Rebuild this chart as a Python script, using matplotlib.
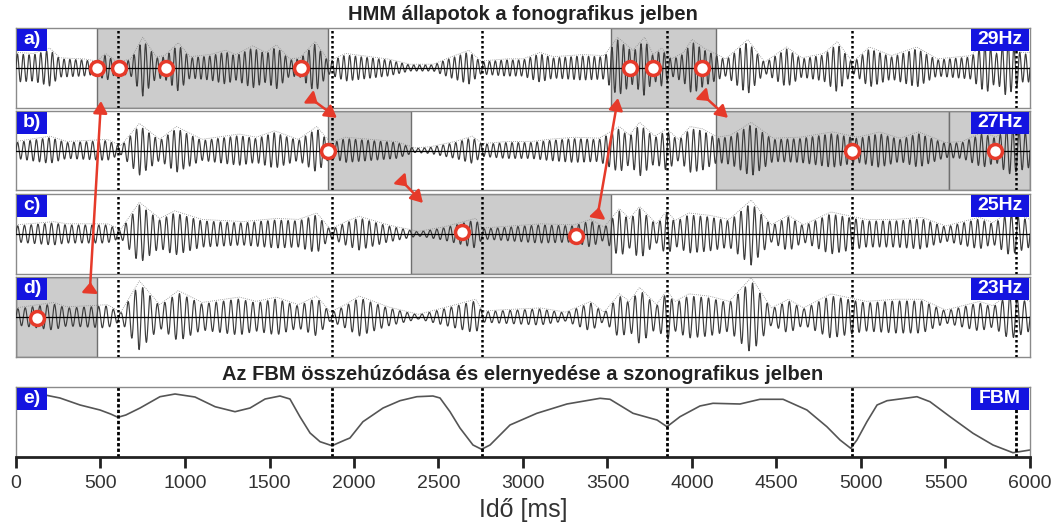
import numpy as np
import matplotlib
matplotlib.use("Agg")
import matplotlib.pyplot as plt
from matplotlib.patches import ConnectionPatch, Rectangle

plt.rcParams['font.family'] = ['Liberation Sans', 'DejaVu Sans']

# ---- data ----
labels = ['a)', 'b)', 'c)', 'd)']
freqs = [29, 27, 25, 23]
freq_labels = ['29Hz', '27Hz', '25Hz', '23Hz']

# envelope knots (ms, amplitude) for each phonographic panel
env_a_t = [0, 100, 200, 260, 400, 480, 530, 600, 680, 750, 830, 880, 960, 1030, 1150, 1240, 1300, 1400, 1480,
           1540, 1620, 1680, 1770, 1850, 1950, 2050, 2200, 2330, 2470, 2560, 2680, 2750, 2900, 3000, 3100, 3180,
           3350, 3480, 3560, 3650, 3720, 3770, 3820, 3880, 3950, 4000, 4070, 4200, 4330, 4430, 4560, 4650, 4780,
           4860, 4950, 5050, 5180, 5330, 5450, 5650, 5740, 5800, 5860, 5950, 6000]
env_a_v = [14, 13, 18, 9, 8, 6, 13, 5, 8, 28, 10, 11, 23, 10, 12, 16, 12, 20, 14,
           21, 8, 9, 24, 6, 13, 11, 8, 3, 3, 9, 16, 6, 8, 8, 14, 10,
           12, 11, 28, 16, 28, 12, 18, 8, 14, 26, 18, 8, 26, 5, 19, 9, 13,
           24, 5, 19, 11, 19, 8, 11, 25, 14, 28, 14, 14]

env_b_t = [0, 200, 300, 540, 620, 730, 850, 950, 1100, 1320, 1420, 1530, 1670, 1780, 1860, 1950, 2100, 2250,
           2360, 2450, 2600, 2700, 2760, 2900, 3050, 3150, 3300, 3450, 3570, 3630, 3690, 3780, 3850, 3920, 3990,
           4060, 4150, 4230, 4350, 4480, 4640, 4830, 4980, 5110, 5230, 5340, 5500, 5600, 5720, 5800, 5870, 6000]
env_b_v = [8, 13, 8, 10, 4, 25, 10, 22, 10, 15, 12, 18, 10, 22, 7, 12, 10, 8,
           2, 3, 8, 13, 6, 8, 8, 10, 12, 11, 22, 14, 26, 13, 20, 10, 22,
           20, 12, 14, 26, 11, 12, 17, 12, 17, 11, 17, 7, 8, 17, 12, 24, 17]

env_c_t = [0, 220, 300, 540, 620, 730, 850, 940, 1100, 1340, 1540, 1670, 1780, 1860, 1950, 2030, 2200, 2380,
           2530, 2720, 2760, 2850, 3100, 3300, 3400, 3480, 3570, 3630, 3690, 3790, 3850, 3900, 3980, 4100, 4220,
           4350, 4470, 4570, 4660, 4820, 5030, 5200, 5360, 5500, 5700, 5780, 5880, 6000]
env_c_v = [8, 11, 9, 9, 4, 29, 14, 21, 13, 11, 14, 13, 19, 4, 11, 16, 8, 2,
           6, 14, 5, 6, 9, 8, 13, 6, 23, 14, 25, 9, 21, 12, 19, 17, 13,
           31, 8, 17, 8, 20, 13, 13, 15, 7, 15, 10, 21, 13]

env_d_t = [0, 220, 300, 540, 620, 730, 850, 960, 1100, 1320, 1420, 1540, 1670, 1780, 1860, 1950, 2030, 2200,
           2380, 2530, 2720, 2760, 2850, 3100, 3250, 3400, 3480, 3570, 3630, 3690, 3790, 3850, 3900, 3980, 4100,
           4220, 4350, 4470, 4570, 4660, 4820, 5030, 5200, 5360, 5500, 5700, 5780, 5880, 6000]
env_d_v = [8, 13, 9, 11, 4, 33, 11, 24, 13, 18, 14, 18, 11, 19, 4, 11, 19, 9,
           2, 8, 16, 5, 6, 8, 4, 14, 4, 21, 14, 27, 11, 24, 14, 21, 19,
           14, 36, 8, 16, 8, 21, 14, 16, 16, 6, 14, 10, 22, 14]

# shaded HMM states (start, end) per panel
spans_a = [(477, 1844), (3519, 4142)]
spans_b = [(1846, 2335), (4142, 5523), (5523, 6000)]
spans_c = [(2335, 3519)]
spans_d = [(0, 477)]

# red circles (ms, offset)
marks_a = [(477, 0), (609, 0), (888, 0), (1686, 0), (3633, 0), (3771, 0), (4057, 0)]
marks_b = [(1844, -1), (4944, 0), (5793, 0)]
marks_c = [(2641, 2), (3311, -2)]
marks_d = [(126, -1)]

# dotted event lines (ms)
events = [603, 1870, 2755, 3852, 4944, 5915]

# FBM curve (ms, height)
fbm_t = [0, 172, 260, 379, 497, 560, 603, 650, 734, 852, 941, 1059, 1178, 1296, 1385, 1474, 1562, 1621, 1680,
         1740, 1799, 1870, 1947, 1976, 2053, 2172, 2272, 2372, 2467, 2509, 2568, 2627, 2704, 2755, 2805, 2923,
         3082, 3260, 3456, 3515, 3651, 3793, 3852, 3929, 4047, 4124, 4284, 4402, 4539, 4680, 4798, 4876, 4939,
         4976, 5035, 5095, 5154, 5331, 5408, 5527, 5663, 5781, 5899, 6000]
fbm_v = [63, 62, 59, 52, 47, 43, 39.7, 42, 49, 60.3, 63, 60, 50.3, 45.3, 49, 58, 61, 58, 40.3,
         24, 15.3, 11.3, 17, 19, 35.3, 49, 56.3, 60.3, 61, 59, 45.3, 29, 12, 7.7, 12, 32,
         43.7, 53, 58.7, 57.7, 43.7, 37, 30.3, 40.3, 51, 53.7, 53, 57.7, 57.7, 47, 30.3, 17, 8.7,
         17, 35.3, 52, 56.3, 60.3, 55.3, 40.3, 23.7, 12, 4.3, 7]

# arrows: (tail panel, tail ms, tail y, head panel, head ms, head y)
arrows = [(3, 438, 29, 0, 503, -33),
          (0, 1757, -32, 1, 1899, 33),
          (0, 4077, -29, 1, 4213, 33),
          (1, 2290, -32, 2, 2408, 31),
          (2, 3444, 21, 0, 3562, -30)]

envs = [(env_a_t, env_a_v), (env_b_t, env_b_v), (env_c_t, env_c_v), (env_d_t, env_d_v)]
spans = [spans_a, spans_b, spans_c, spans_d]
marks = [marks_a, marks_b, marks_c, marks_d]

BLUE = '#1414e0'
RED = '#e63a2a'

W, H = 1061, 528
fig = plt.figure(figsize=(W / 100, H / 100), dpi=100)

def box(top, bottom):
    return [16 / W, (H - bottom) / H, (1030 - 16) / W, (bottom - top) / H]

def tag(ax, text, hpx, side):
    # blue label box sized in pixels, sitting in a top corner of the axes
    w = (30 if side == 'left' else 58) / 1014
    h = 22 / hpx
    x0 = 0.001 if side == 'left' else 1 - w - 0.001
    ax.add_patch(Rectangle((x0, 1 - h - 0.01), w, h, transform=ax.transAxes, fc=BLUE, ec='none',
                           zorder=9, clip_on=False))
    ax.text(x0 + w / 2, 1 - h / 2 - 0.01, text, transform=ax.transAxes, ha='center', va='center',
            color='white', fontsize=14, fontweight='bold', zorder=10)

panel_px = [(28, 108), (111, 190), (194, 274), (277, 357)]
axes = []
t = np.arange(0, 6001, 1.0)
for i in range(4):
    ax = fig.add_axes(box(*panel_px[i]))
    axes.append(ax)
    for s0, s1 in spans[i]:
        ax.axvspan(s0, s1, fc='#cccccc', ec='#6f6f6f', lw=1, zorder=0)
    env = np.interp(t, envs[i][0], envs[i][1])
    sig = env * np.sin(2 * np.pi * freqs[i] * t / 1000.0)
    ax.plot(t, env * 1.08 + 0.5, color='#8a8a8a', lw=0.6, ls=(0, (1, 1.5)), zorder=2)
    ax.plot(t, sig, color='#3c3c3c', lw=0.85, zorder=3)
    ax.axhline(0, color='black', lw=0.9, zorder=4)
    for e in events:
        ax.axvline(e, color='black', lw=1.8, ls=(0, (1, 1)), zorder=5)
    mx = [m[0] for m in marks[i]]
    my = [m[1] for m in marks[i]]
    ax.plot(mx, my, 'o', ms=10, mfc='white', mec=RED, mew=2.5, zorder=6)
    ax.set_xlim(0, 6000)
    ax.set_ylim(-40, 40)
    ax.set_xticks([])
    ax.set_yticks([])
    for sp in ax.spines.values():
        sp.set_color('#8a8a8a')
        sp.set_linewidth(1)
    hpx = panel_px[i][1] - panel_px[i][0]
    tag(ax, labels[i], hpx, 'left')
    tag(ax, freq_labels[i], hpx, 'right')

# FBM panel
axe = fig.add_axes(box(387, 457))
axe.plot(fbm_t, fbm_v, color='#555555', lw=1.2)
for e in events:
    axe.axvline(e, color='black', lw=2, ls=(0, (1.2, 0.8)))
axe.set_xlim(0, 6000)
axe.set_ylim(0, 70)
axe.set_yticks([])
axe.set_xticks(np.arange(0, 6001, 500))
axe.tick_params(axis='x', direction='out', length=8, width=2, labelsize=14, pad=5,
                color='#222222', labelcolor='#333333')
for name, sp in axe.spines.items():
    sp.set_color('#8a8a8a')
    sp.set_linewidth(1)
axe.spines['bottom'].set_color('#222222')
axe.spines['bottom'].set_linewidth(2)
axe.set_xlabel('Idő [ms]', fontsize=18, labelpad=4, color='#333333')
tag(axe, 'e)', 70, 'left')
tag(axe, 'FBM', 70, 'right')

fig.text(523 / W, 1 - 14 / H, 'HMM állapotok a fonografikus jelben', ha='center', va='center',
         fontsize=14.5, fontweight='bold', color='#222222')
fig.text(523 / W, 1 - 375 / H, 'Az FBM összehúzódása és elernyedése a szonografikus jelben', ha='center',
         va='center', fontsize=14.5, fontweight='bold', color='#222222')

# red arrows between HMM states
for ti, tx, ty, hi, hx, hy in arrows:
    p0 = axes[ti].transData.transform((tx, ty))
    p1 = axes[hi].transData.transform((hx, hy))
    d = (p1 - p0) / np.hypot(*(p1 - p0))
    con = ConnectionPatch(xyA=tuple(p0), coordsA='figure pixels', xyB=tuple(p1), coordsB='figure pixels',
                          arrowstyle='-|>,head_length=0.6,head_width=0.35', color=RED, lw=1.8, zorder=20,
                          shrinkA=0, shrinkB=0, mutation_scale=12)
    fig.add_artist(con)
    # notched tail drawn as a small filled head pointing the same way
    q0 = p0 - d * 1
    q1 = p0 + d * 6
    tail = ConnectionPatch(xyA=tuple(q0), coordsA='figure pixels', xyB=tuple(q1), coordsB='figure pixels',
                           arrowstyle='-|>,head_length=0.5,head_width=0.38', color=RED, lw=1.8, zorder=20,
                           shrinkA=0, shrinkB=0, mutation_scale=12)
    fig.add_artist(tail)

fig.savefig('out.png', dpi=100)
